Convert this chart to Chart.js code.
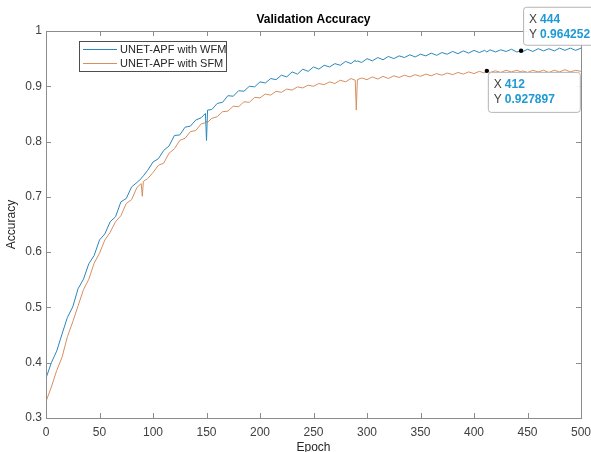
<!DOCTYPE html>
<html>
<head>
<meta charset="utf-8">
<title>Validation Accuracy</title>
<script src="https://cdn.jsdelivr.net/npm/chart.js@4/dist/chart.umd.min.js"></script>
<style>
    html, body { margin: 0; padding: 0; background: #fff; }
    #wrap { width: 591px; height: 452px; position: relative; }
</style>
</head>
<body>
<div id="wrap"><canvas id="accChart"></canvas></div>
<script>
// Epochs sampled from the figure (extra points around the spikes and datatips)
const epochs = [
    0, 5, 10, 15, 20, 25, 30, 35, 40, 45, 50, 55, 60, 65, 70, 75, 80, 85, 89, 90, 91, 95,
    100, 105, 110, 115, 120, 125, 130, 135, 140, 145, 149, 150, 151, 155, 160, 165, 170, 175, 180, 185, 190, 195,
    200, 205, 210, 215, 220, 225, 230, 235, 240, 245, 250, 255, 260, 265, 270, 275, 280, 285, 289, 290, 291, 295,
    300, 305, 310, 315, 320, 325, 330, 335, 340, 345, 350, 355, 360, 365, 370, 375, 380, 385, 390, 395,
    400, 405, 410, 412, 415, 420, 425, 430, 435, 440, 444, 445, 450, 455, 460, 465, 470, 475, 480, 485, 490, 495, 500
];

// UNET-APF with WFM
const accWFM = [
    0.372, 0.400, 0.421, 0.452, 0.482, 0.501, 0.534, 0.551, 0.579, 0.594, 0.622, 0.633, 0.655, 0.664, 0.691, 0.697, 0.718, 0.726, 0.733, 0.736, 0.738, 0.748,
    0.763, 0.769, 0.784, 0.792, 0.811, 0.812, 0.826, 0.828, 0.839, 0.843, 0.851, 0.802, 0.857, 0.858, 0.869, 0.871, 0.883, 0.882, 0.892, 0.891, 0.900, 0.899,
    0.908, 0.906, 0.914, 0.912, 0.920, 0.917, 0.926, 0.922, 0.931, 0.927, 0.935, 0.931, 0.938, 0.935, 0.941, 0.938, 0.945, 0.941, 0.947, 0.944, 0.946, 0.943,
    0.950, 0.946, 0.952, 0.948, 0.954, 0.950, 0.955, 0.952, 0.957, 0.953, 0.958, 0.955, 0.960, 0.956, 0.961, 0.958, 0.963, 0.959, 0.964, 0.960,
    0.965, 0.961, 0.965, 0.962, 0.966, 0.962, 0.966, 0.963, 0.967, 0.962, 0.964252, 0.962, 0.967, 0.963, 0.968, 0.964, 0.968, 0.964, 0.969, 0.965, 0.969, 0.965, 0.969
];

// UNET-APF with SFM
const accSFM = [
    0.330, 0.356, 0.386, 0.410, 0.447, 0.474, 0.503, 0.532, 0.551, 0.580, 0.598, 0.622, 0.636, 0.655, 0.666, 0.688, 0.695, 0.717, 0.724, 0.701, 0.728, 0.733,
    0.744, 0.757, 0.761, 0.779, 0.787, 0.802, 0.806, 0.818, 0.820, 0.832, 0.834, 0.837, 0.835, 0.842, 0.845, 0.854, 0.855, 0.864, 0.863, 0.872, 0.871, 0.880,
    0.879, 0.886, 0.884, 0.891, 0.889, 0.895, 0.893, 0.899, 0.897, 0.902, 0.900, 0.905, 0.903, 0.908, 0.905, 0.911, 0.908, 0.914, 0.911, 0.857, 0.912, 0.915,
    0.912, 0.917, 0.913, 0.918, 0.914, 0.919, 0.916, 0.920, 0.917, 0.921, 0.918, 0.922, 0.919, 0.923, 0.920, 0.924, 0.921, 0.925, 0.922, 0.926,
    0.923, 0.927, 0.924, 0.927897, 0.925, 0.928, 0.925, 0.929, 0.926, 0.929, 0.926, 0.928, 0.925, 0.929, 0.926, 0.929, 0.925, 0.929, 0.926, 0.930, 0.926, 0.929, 0.927
];

// Datatips shown on the figure
const tipEpochs = [444, 412];
const tipValues = [0.964252, 0.927897];

const seriesNames = ['UNET-APF with WFM', 'UNET-APF with SFM'];
const seriesColors = ['#2b87ba', '#d68f60'];
const FONT = '"Liberation Sans", Arial, sans-serif';

function toPoints(values) {
    return epochs.map((e, i) => ({ x: e, y: values[i] }));
}

// Frame, inward ticks, title, legend and datatips drawn like a MATLAB figure
const matlabDecor = {
    id: 'matlabDecor',
    afterDraw(chart) {
        const c = chart.ctx;
        const a = chart.chartArea;
        const xs = chart.scales.x;
        const ys = chart.scales.y;
        c.save();

        // box around the axes
        c.strokeStyle = '#8c8c8c';
        c.lineWidth = 1;
        c.strokeRect(Math.round(a.left) + 0.5, Math.round(a.top) + 0.5,
                     Math.round(a.right - a.left), Math.round(a.bottom - a.top));

        // inward tick marks on all four sides
        c.beginPath();
        xs.ticks.forEach(t => {
            const px = Math.round(xs.getPixelForValue(t.value)) + 0.5;
            c.moveTo(px, a.bottom); c.lineTo(px, a.bottom - 5);
            c.moveTo(px, a.top); c.lineTo(px, a.top + 5);
        });
        ys.ticks.forEach(t => {
            const py = Math.round(ys.getPixelForValue(t.value)) + 0.5;
            c.moveTo(a.left, py); c.lineTo(a.left + 5, py);
            c.moveTo(a.right, py); c.lineTo(a.right - 5, py);
        });
        c.stroke();

        // title
        c.fillStyle = '#000';
        c.font = 'bold 12px ' + FONT;
        c.textAlign = 'center';
        c.textBaseline = 'middle';
        c.fillText('Validation Accuracy', (a.left + a.right) / 2, 20);

        // legend
        const lx = a.left + 33, ly = a.top + 10;
        c.fillStyle = '#fff';
        c.fillRect(lx, ly, 147, 30);
        c.strokeStyle = '#4d4d4d';
        c.strokeRect(lx + 0.5, ly + 0.5, 147, 30);
        c.font = '11px ' + FONT;
        c.textAlign = 'left';
        seriesNames.forEach((name, i) => {
            const yy = ly + 8 + i * 14;
            c.strokeStyle = seriesColors[i];
            c.beginPath();
            c.moveTo(lx + 4, yy + 0.5); c.lineTo(lx + 38, yy + 0.5);
            c.stroke();
            c.fillStyle = '#262626';
            c.fillText(name, lx + 41, yy + 1);
        });

        // datatips
        const boxes = [
            { dx: 2, dy: -44, w: 72, h: 38 },
            { dx: 1, dy: 1, w: 92, h: 40 }
        ];
        tipEpochs.forEach((ep, i) => {
            const px = xs.getPixelForValue(ep);
            const py = ys.getPixelForValue(tipValues[i]);
            const b = boxes[i];
            const bx = px + b.dx, by = py + b.dy;
            c.fillStyle = 'rgba(255,255,255,0.92)';
            c.strokeStyle = '#b4b4b4';
            c.beginPath();
            c.roundRect(bx + 0.5, by + 0.5, b.w, b.h, 3);
            c.fill();
            c.stroke();
            c.font = '12px ' + FONT;
            c.fillStyle = '#404040';
            c.fillText('X', bx + 6, by + 13);
            c.fillText('Y', bx + 6, by + 28);
            c.font = 'bold 12px ' + FONT;
            c.fillStyle = '#1e9ad6';
            c.fillText(String(ep), bx + 17, by + 13);
            c.fillText(String(tipValues[i]), bx + 17, by + 28);
            c.fillStyle = '#000';
            c.beginPath();
            c.arc(px, py, 2.2, 0, Math.PI * 2);
            c.fill();
        });

        c.restore();
    }
};

var ctx = document.getElementById('accChart').getContext('2d');
new Chart(ctx, {
    type: 'line',
    data: {
        datasets: [{
            label: seriesNames[0],
            data: toPoints(accWFM),
            borderColor: seriesColors[0],
            borderWidth: 1,
            pointRadius: 0,
            fill: false
        }, {
            label: seriesNames[1],
            data: toPoints(accSFM),
            borderColor: seriesColors[1],
            borderWidth: 1,
            pointRadius: 0,
            fill: false
        }]
    },
    options: {
        responsive: true,
        maintainAspectRatio: false,
        animation: false,
        layout: { padding: { left: 0, top: 31, right: 10, bottom: 0 } },
        plugins: {
            legend: { display: false },
            tooltip: { enabled: false }
        },
        scales: {
            x: {
                type: 'linear',
                min: 0,
                max: 500,
                grid: { display: false, drawTicks: false },
                border: { display: false },
                ticks: { stepSize: 50, padding: 7, color: '#404040', font: { family: FONT, size: 12 } },
                title: { display: true, text: 'Epoch', color: '#262626', padding: { top: 0, bottom: -3 }, font: { family: FONT, size: 12 } },
                afterFit(scale) {
                    scale.height = 34;
                    // let the last tick label hang into the right margin
                    scale.paddingLeft = 0;
                    scale.paddingRight = 0;
                }
            },
            y: {
                min: 0.3,
                max: 1,
                grid: { display: false, drawTicks: false },
                border: { display: false },
                ticks: {
                    stepSize: 0.1,
                    padding: 4,
                    color: '#404040',
                    font: { family: FONT, size: 12 },
                    callback: v => String(+v.toFixed(1))
                },
                title: { display: true, text: 'Accuracy', color: '#262626', padding: { top: 4, bottom: 0 }, font: { family: FONT, size: 12 } },
                afterFit(scale) {
                    scale.width = 46;
                    scale.paddingTop = 0;
                    scale.paddingBottom = 0;
                }
            }
        }
    },
    plugins: [matlabDecor]
});
</script>
</body>
</html>
